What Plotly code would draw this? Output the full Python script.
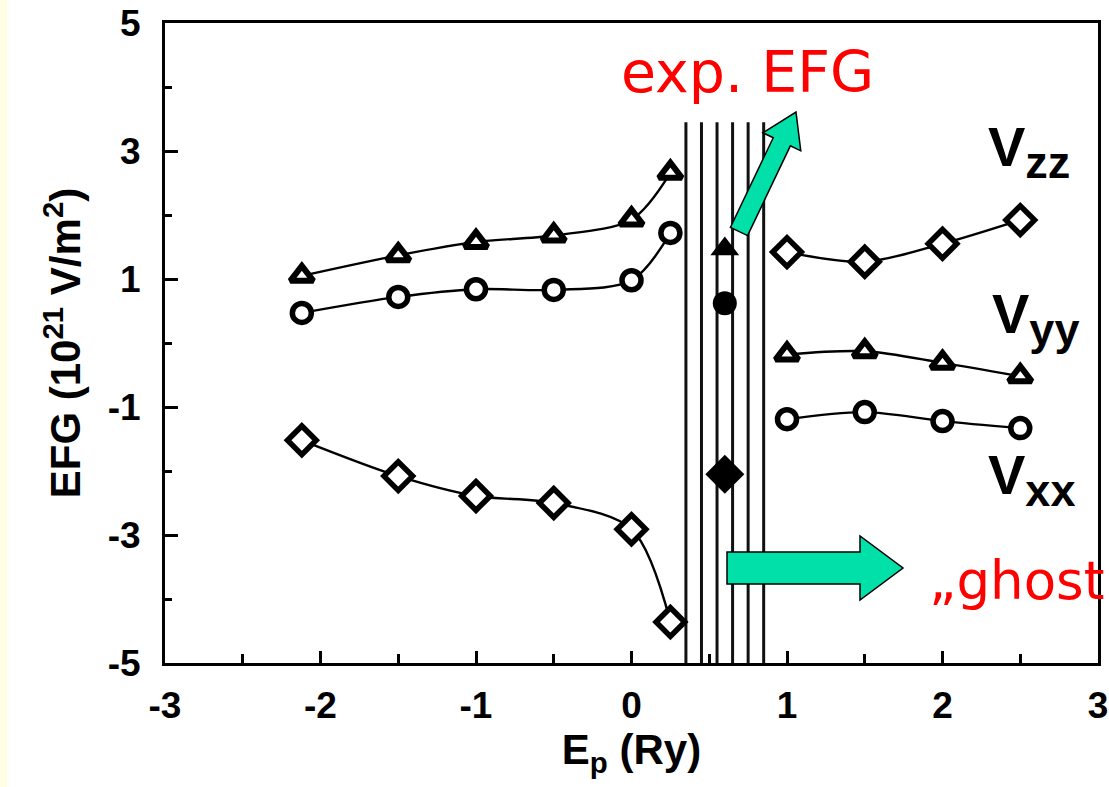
import plotly.graph_objects as go
import math

# ---------------- data ----------------
ep_left = [-2.12, -1.5, -1.0, -0.5, 0.0, 0.25]
ep_right = [1.0, 1.5, 2.0, 2.5]

tri_left = [1.05, 1.37, 1.58, 1.68, 1.93, 2.66]
circ_left = [0.47, 0.72, 0.84, 0.83, 0.98, 1.72]
diam_left = [-1.52, -2.08, -2.39, -2.50, -2.91, -4.36]

diam_right = [1.42, 1.27, 1.55, 1.92]      # Vzz
tri_right = [-0.18, -0.13, -0.31, -0.52]   # Vyy
circ_right = [-1.19, -1.08, -1.22, -1.33]  # Vxx

exp_x = [0.6]
exp_tri = [1.47]
exp_circ = [0.62]
exp_diam = [-2.05]

ghost_lines = [0.35, 0.45, 0.55, 0.65, 0.75, 0.85]
ghost_top = 3.45

x_ticks = [-3, -2, -1, 0, 1, 2, 3]
x_ticktext = ["-3", "-2", "-1", "0", "1", "2", "3"]
y_ticks = [-5, -3, -1, 1, 3, 5]
y_ticktext = ["-5", "-3", "-1", "1", "3", "5"]

# ---------------- layout geometry ----------------
W, H = 1109, 787
ML, MR, MT, MB = 165, 11, 23, 124
X0, X1, Y0, Y1 = -3, 3, -5, 5
PW, PH = W - ML - MR, H - MT - MB


def px2x(px):
    return X0 + (px - ML) * (X1 - X0) / PW


def py2y(py):
    return Y1 - (py - MT) * (Y1 - Y0) / PH


def block_arrow(tail, tip, shaft_hw, head_hw, head_len):
    tx, ty = tail
    hx, hy = tip
    L = math.hypot(hx - tx, hy - ty)
    ux, uy = (hx - tx) / L, (hy - ty) / L
    nx, ny = -uy, ux
    bx, by = hx - ux * head_len, hy - uy * head_len
    pts = [
        (tx + nx * shaft_hw, ty + ny * shaft_hw),
        (bx + nx * shaft_hw, by + ny * shaft_hw),
        (bx + nx * head_hw, by + ny * head_hw),
        (hx, hy),
        (bx - nx * head_hw, by - ny * head_hw),
        (bx - nx * shaft_hw, by - ny * shaft_hw),
        (tx - nx * shaft_hw, ty - ny * shaft_hw),
    ]
    return "M " + " L ".join(f"{px2x(p[0]):.5f},{py2y(p[1]):.5f}" for p in pts) + " Z"


def join(a, b):
    return a + [None] + b


fig = go.Figure()

line_style = dict(color="black", width=2.4, shape="spline", smoothing=0.9)

fig.add_trace(go.Scatter(
    x=join(ep_left, ep_right), y=join(tri_left, tri_right), mode="lines+markers",
    line=line_style, name="Vyy",
    marker=dict(symbol="triangle-up", size=20, color="white", line=dict(color="black", width=6)),
))
fig.add_trace(go.Scatter(
    x=join(ep_left, ep_right), y=join(circ_left, circ_right), mode="lines+markers",
    line=line_style, name="Vxx",
    marker=dict(symbol="circle", size=19, color="white", line=dict(color="black", width=5.5)),
))
fig.add_trace(go.Scatter(
    x=join(ep_left, ep_right), y=join(diam_left, diam_right), mode="lines+markers",
    line=line_style, name="Vzz",
    marker=dict(symbol="diamond", size=22, color="white", line=dict(color="black", width=5.5)),
))
fig.add_trace(go.Scatter(x=exp_x, y=exp_tri, mode="markers", name="exp",
                         marker=dict(symbol="triangle-up", size=25, color="black")))
fig.add_trace(go.Scatter(x=exp_x, y=exp_circ, mode="markers", name="exp",
                         marker=dict(symbol="circle", size=24, color="black")))
fig.add_trace(go.Scatter(x=exp_x, y=exp_diam, mode="markers", name="exp",
                         marker=dict(symbol="diamond", size=30, color="black")))

shapes = []
for gx in ghost_lines:
    shapes.append(dict(type="line", xref="x", yref="y", x0=gx, x1=gx, y0=Y0, y1=ghost_top,
                       line=dict(color="#111111", width=3), layer="below"))

arrow_fill = "#00E0A8"
shapes.append(dict(type="path", xref="x", yref="y",
                   path=block_arrow((739, 231.5), (796, 112), 9.5, 21, 33),
                   fillcolor=arrow_fill, line=dict(color="black", width=1.5), layer="above"))
shapes.append(dict(type="path", xref="x", yref="y",
                   path=block_arrow((727, 568), (903, 568), 16, 32, 43),
                   fillcolor=arrow_fill, line=dict(color="black", width=1.5), layer="above"))
# slide background strip at the left edge
shapes.append(dict(type="rect", xref="paper", yref="paper",
                   x0=-ML / PW, x1=(7 - ML) / PW, y0=-MB / PH, y1=1 + MT / PH,
                   fillcolor="#FFFDE4", line=dict(width=0), layer="below"))

lab_font = dict(family="Liberation Sans, Arial, sans-serif", size=56, color="black", weight="bold")
red_font = dict(family="DejaVu Sans, Verdana, sans-serif", size=57, color="#FF0000")
ghost_font = dict(family="DejaVu Sans, Verdana, sans-serif", size=53, color="#FF0000")

annotations = [
    dict(text="exp. EFG", x=px2x(619), y=py2y(72), xref="x", yref="y", xanchor="left",
         yanchor="middle", showarrow=False, font=red_font),
    dict(text="\u201eghost", x=px2x(927), y=py2y(580), xref="x", yref="y", xanchor="left",
         yanchor="middle", showarrow=False, font=ghost_font),
    dict(text="V<sub><span style='font-size:45px'>zz</span></sub>", x=px2x(986), y=py2y(151),
         xref="x", yref="y", xanchor="left", yanchor="middle", showarrow=False, font=lab_font),
    dict(text="V<sub><span style='font-size:45px'>yy</span></sub>", x=px2x(990), y=py2y(318),
         xref="x", yref="y", xanchor="left", yanchor="middle", showarrow=False, font=lab_font),
    dict(text="V<sub><span style='font-size:45px'>xx</span></sub>", x=px2x(986), y=py2y(479),
         xref="x", yref="y", xanchor="left", yanchor="middle", showarrow=False, font=lab_font),
]

tick_font = dict(family="Liberation Sans, Arial, sans-serif", size=37, color="black", weight="bold")
title_font = dict(family="Liberation Sans, Arial, sans-serif", size=42, color="black", weight="bold")

fig.update_layout(
    width=W, height=H,
    margin=dict(l=ML, r=MR, t=MT, b=MB, pad=0, autoexpand=False),
    paper_bgcolor="white", plot_bgcolor="white",
    showlegend=False,
    shapes=shapes, annotations=annotations,
    xaxis=dict(range=[X0, X1], tickvals=x_ticks, ticktext=x_ticktext, ticks="inside",
               automargin=False, ticklabeloverflow="allow",
               ticklen=12, tickwidth=2.5, tickcolor="black", showgrid=False, zeroline=False,
               showline=True, linecolor="black", linewidth=3, mirror=True,
               tickfont=tick_font, ticklabelstandoff=8,
               minor=dict(dtick=0.5, tick0=0, ticks="inside", ticklen=9, tickwidth=2.5, tickcolor="black"),
               title=dict(text="E<sub>p</sub> (Ry)", font=title_font, standoff=8)),
    yaxis=dict(range=[Y0, Y1], tickvals=y_ticks, ticktext=y_ticktext, ticks="inside",
               automargin=False, ticklabeloverflow="allow",
               ticklen=13, tickwidth=2.5, tickcolor="black", showgrid=False, zeroline=False,
               showline=True, linecolor="black", linewidth=3, mirror=True,
               tickfont=tick_font, ticklabelstandoff=14,
               minor=dict(dtick=1, tick0=0, ticks="inside", ticklen=7, tickwidth=2.5, tickcolor="black"),
               title=dict(text="EFG (10<sup>21</sup> V/m<sup>2</sup>)", font=title_font, standoff=14)),
)

fig.write_html("out.html", config={"displayModeBar": False})
